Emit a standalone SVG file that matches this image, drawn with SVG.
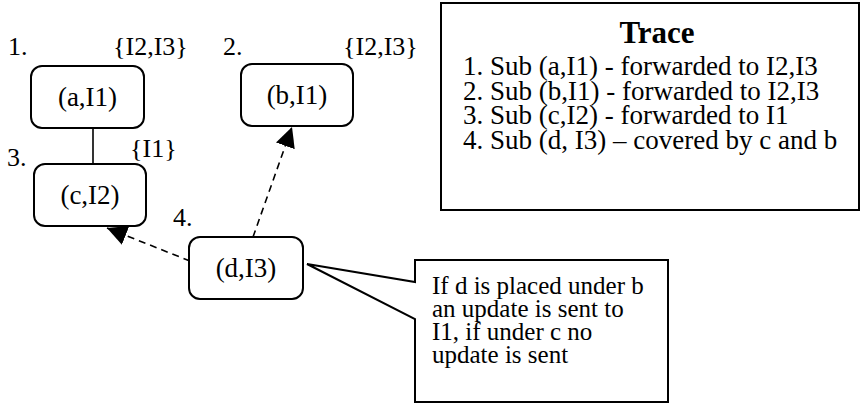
<svg xmlns="http://www.w3.org/2000/svg" width="861" height="406" viewBox="0 0 861 406">
<style>
text{font-family:"Liberation Serif","Times New Roman",serif;fill:#000}
.node rect{fill:#fff;stroke:#000;stroke-width:2}
.nt{font-size:27px;text-anchor:middle}
.lbl{font-size:26px}
.tr{font-size:27px}
.co{font-size:25px}
.dash{fill:none;stroke:#000;stroke-width:1.6;stroke-dasharray:7 5}
</style>
<defs>
<marker id="ah" viewBox="0 0 20 20" refX="20" refY="10" markerWidth="20" markerHeight="20" markerUnits="userSpaceOnUse" orient="auto">
<path d="M0,0 L20,10 L0,20 z" fill="#000"/>
</marker>
</defs>
<rect width="861" height="406" fill="#fff"/>
<g id="connectors">
<line x1="93" y1="128" x2="93" y2="164" stroke="#000" stroke-width="1.6"/>
<line class="dash" x1="253" y1="237" x2="292" y2="127" marker-end="url(#ah)"/>
<line class="dash" x1="190" y1="261" x2="107" y2="228" marker-end="url(#ah)"/>
</g>
<g id="node-a" class="node"><rect x="31" y="66" width="113" height="62" rx="11"/><text class="nt" x="87.5" y="106">(a,I1)</text></g>
<g id="node-b" class="node"><rect x="241" y="64" width="112" height="62" rx="11"/><text class="nt" x="297" y="104">(b,I1)</text></g>
<g id="node-c" class="node"><rect x="34" y="164" width="112" height="62" rx="11"/><text class="nt" x="90" y="204">(c,I2)</text></g>
<g id="node-d" class="node"><rect x="189" y="237" width="114" height="62" rx="11"/><text class="nt" x="246" y="277">(d,I3)</text></g>
<g id="labels">
<text class="lbl" x="8" y="55">1.</text>
<text class="lbl" x="113" y="55">{I2,I3}</text>
<text class="lbl" x="223" y="55">2.</text>
<text class="lbl" x="343" y="55">{I2,I3}</text>
<text class="lbl" x="130" y="157">{I1}</text>
<text class="lbl" x="7" y="166">3.</text>
<text class="lbl" x="173" y="226">4.</text>
</g>
<g id="trace">
<rect x="441" y="3" width="418" height="207" fill="#fff" stroke="#000" stroke-width="2"/>
<text x="657" y="43" font-size="31" font-weight="bold" text-anchor="middle">Trace</text>
<text class="tr" x="463" y="75">1. Sub (a,I1) - forwarded to I2,I3</text>
<text class="tr" x="463" y="99.5">2. Sub (b,I1) - forwarded to I2,I3</text>
<text class="tr" x="463" y="124">3. Sub (c,I2) - forwarded to I1</text>
<text class="tr" x="463" y="148.5">4. Sub (d, I3) – covered by c and b</text>
</g>
<g id="callout">
<polygon points="415,260 668,260 668,402 415,402 415,319 307,264 415,282" fill="#fff" stroke="#000" stroke-width="2"/>
<text class="co" x="432" y="294">If d is placed under b</text>
<text class="co" x="432" y="317">an update is sent to</text>
<text class="co" x="432" y="340">I1, if under c no</text>
<text class="co" x="432" y="363">update is sent</text>
</g>
</svg>
